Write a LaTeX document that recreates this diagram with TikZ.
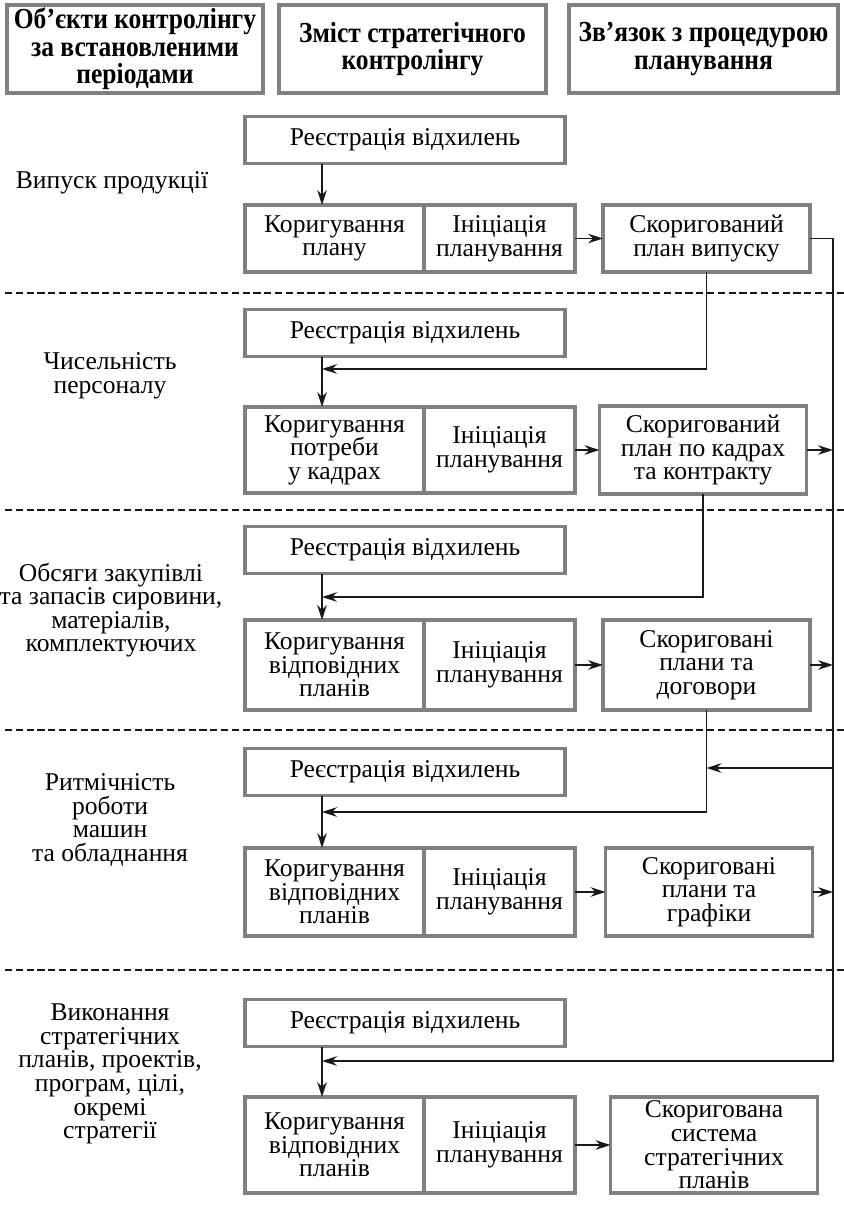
\documentclass[tikz,border=0pt]{standalone}
\usepackage{fontspec}
\setmainfont{Liberation Serif}
\newfontfamily\scheadfamily{Liberation Serif}[FakeStretch=0.88]
\usepackage{tikz}
\usetikzlibrary{positioning, arrows.meta, calc}
\definecolor{sc-frame}{RGB}{128,128,128}
\definecolor{sc-ink}{RGB}{25,25,25}
\newcommand{\scbody}{\fontsize{12.8}{11.8}\selectfont\lineskiplimit=-20pt\relax}
\newcommand{\schead}{\scheadfamily\fontsize{14.5}{13.8}\selectfont\bfseries\lineskiplimit=-20pt\relax}
\tikzset{
  sc@head/.style={
    draw=sc-frame, line width=1.7pt, minimum height=44pt,
    align=center, font=\schead, inner sep=1pt
  },
  sc@box/.style={
    draw=sc-frame, line width=1.7pt, outer sep=0pt,
    align=center, font=\scbody, inner sep=1pt
  },
  sc@reg/.style={sc@box, minimum width=160pt, minimum height=23.5pt},
  sc@corr/.style={sc@box, minimum width=89.5pt},
  sc@ini/.style={sc@box, minimum width=75.5pt},
  sc@res/.style={sc@box, minimum width=103.5pt},
  sc@lbl/.style={align=center, font=\scbody, inner sep=0pt},
  sc@arr/.style={-{Stealth[length=7.5pt, width=4.8pt]}, line width=0.8pt, sc-ink},
  sc@sep/.style={line width=0.8pt, dash pattern=on 3.6pt off 1.8pt, sc-ink},
}
\begin{document}
\begin{tikzpicture}[x=0.5pt, y=-0.5pt]
  \useasboundingbox (0,0) rectangle (844,1205);

  \node[sc@head, minimum width=128pt]   (hobj)  at (135,49)   {Об’єкти контролінгу\\за встановленими\\періодами};
  \node[sc@head, minimum width=133.5pt] (hcont) at (412.5,49) {Зміст стратегічного\\контролінгу};
  \node[sc@head, minimum width=134.5pt] (hlink) at (703.5,49) {Зв’язок з процедурою\\планування};

  \foreach \y in {293,510,730,970}
    \draw[sc@sep] (5,\y) -- (844,\y);

  \coordinate (col) at (322,0);
  \coordinate (j2) at (322,369);
  \coordinate (j3) at (322,597);
  \coordinate (j4) at (322,812);
  \coordinate (j5) at (322,1061);
  \coordinate (busend) at (833,1061);
  \coordinate (tap4) at (833,768);

  % випуск продукції
  \node[sc@lbl] (lab1) at (112,183) {Випуск продукції};
  \node[sc@reg] (reg1) at (405,140) {Реєстрація відхилень};
  \node[sc@corr, minimum height=33.5pt] (corr1) at (334.5,238.5) {Коригування\\плану};
  \node[sc@ini, minimum height=33.5pt, right=0pt of corr1] (ini1) {Ініціація\\планування};
  \node[sc@res, minimum height=33.5pt] (res1) at (706.5,238.5) {Скоригований\\план випуску};

  % чисельність персоналу
  \node[sc@lbl] (lab2) at (110,376) {Чисельність\\персоналу};
  \node[sc@reg] (reg2) at (405,333) {Реєстрація відхилень};
  \node[sc@corr, minimum height=43pt] (corr2) at (334.5,450) {Коригування\\потреби\\у кадрах};
  \node[sc@ini, minimum height=43pt, right=0pt of corr2] (ini2) {Ініціація\\планування};
  \node[sc@res, minimum height=44pt] (res2) at (703,450) {Скоригований\\план по кадрах\\та контракту};

  % обсяги закупівлі
  \node[sc@lbl] (lab3) at (111,610) {Обсяги закупівлі\\та запасів сировини,\\матеріалів,\\комплектуючих};
  \node[sc@reg] (reg3) at (405,550) {Реєстрація відхилень};
  \node[sc@corr, minimum height=45pt] (corr3) at (334.5,665) {Коригування\\відповідних\\планів};
  \node[sc@ini, minimum height=45pt, right=0pt of corr3] (ini3) {Ініціація\\планування};
  \node[sc@res, minimum height=45pt] (res3) at (706.5,665) {Скориговані\\плани та\\договори};

  % ритмічність роботи
  \node[sc@lbl] (lab4) at (110,820) {Ритмічність\\роботи\\машин\\та обладнання};
  \node[sc@reg] (reg4) at (405,772) {Реєстрація відхилень};
  \node[sc@corr, minimum height=44pt] (corr4) at (334.5,892) {Коригування\\відповідних\\планів};
  \node[sc@ini, minimum height=44pt, right=0pt of corr4] (ini4) {Ініціація\\планування};
  \node[sc@res, minimum height=44pt] (res4) at (709,892) {Скориговані\\плани та\\графіки};

  % виконання стратегічних планів
  \node[sc@lbl] (lab5) at (110,1074) {Виконання\\стратегічних\\планів, проектів,\\програм, цілі,\\окремі\\стратегії};
  \node[sc@reg] (reg5) at (405,1023) {Реєстрація відхилень};
  \node[sc@corr, minimum height=48pt] (corr5) at (334.5,1145) {Коригування\\відповідних\\планів};
  \node[sc@ini, minimum height=48pt, right=0pt of corr5] (ini5) {Ініціація\\планування};
  \node[sc@res, minimum height=48pt] (res5) at (714,1145) {Скоригована\\система\\стратегічних\\планів};

  \draw[sc@arr] (reg1.south -| col) -- (corr1.north -| col);
  \draw[sc@arr] (reg2.south -| col) -- (corr2.north -| col);
  \draw[sc@arr] (reg3.south -| col) -- (corr3.north -| col);
  \draw[sc@arr] (reg4.south -| col) -- (corr4.north -| col);
  \draw[sc@arr] (reg5.south -| col) -- (corr5.north -| col);

  \draw[sc@arr] (ini1) -- (res1);
  \draw[sc@arr] (ini2) -- (res2);
  \draw[sc@arr] (ini3) -- (res3);
  \draw[sc@arr] (ini4) -- (res4);
  \draw[sc@arr] (ini5) -- (res5);

  \draw[sc@arr] (res1.south) |- (j2);
  \draw[sc@arr] (res2.south) |- (j3);
  \draw[sc@arr] (res3.south) |- (j4);
  \draw[sc@arr] (res1.east) -| (busend) -- (j5);
  \draw[sc@arr] (res2.east) -- (res2.east -| busend);
  \draw[sc@arr] (res3.east) -- (res3.east -| busend);
  \draw[sc@arr] (res4.east) -- (res4.east -| busend);
  \draw[sc@arr] (tap4) -- (tap4 -| res3.south);
\end{tikzpicture}
\end{document}
